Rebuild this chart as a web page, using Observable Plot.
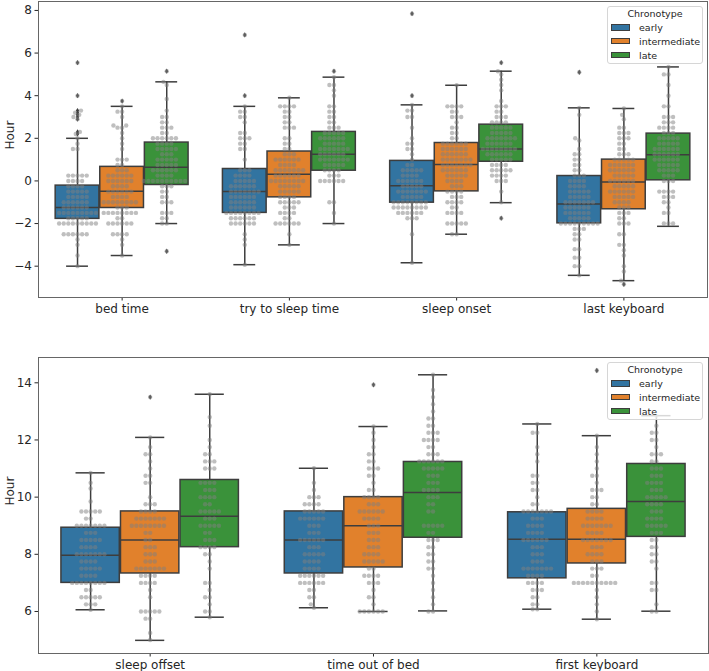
<!DOCTYPE html>
<html><head><meta charset="utf-8">
<script src="https://cdn.jsdelivr.net/npm/d3@7"></script>
<script src="https://cdn.jsdelivr.net/npm/@observablehq/plot@0.6"></script>
<style>
body{margin:0;background:#fff;font-family:"DejaVu Sans",sans-serif}
#wrap{position:relative;width:709px;height:671px;overflow:hidden}
.panel{position:absolute;left:0}
.legend{position:absolute;left:607px;width:96px;height:58px;background:rgba(255,255,255,0.8);border:1px solid #d6d6d6;border-radius:3px;box-sizing:border-box;font-size:9.5px;line-height:11px;color:#262626}
.legend .title{position:absolute;left:0;width:100%;text-align:center;top:0.8px;line-height:11px}
.legend .sw{position:absolute;left:3px;width:19px;height:6.5px;box-sizing:border-box;border:0.8px solid #3d3d3d}
.legend .lb{position:absolute;left:31px;line-height:11px;white-space:nowrap}
</style></head>
<body><div id="wrap"></div>
<script>
// ---------- data ----------
const chronotypes = ["early", "intermediate", "late"];
const boxColors = ["#3274a1", "#e1812c", "#3a923a"];

const topCategories = ["bed time", "try to sleep time", "sleep onset", "last keyboard"];
const bottomCategories = ["sleep offset", "time out of bed", "first keyboard"];

// box statistics, order: category-major, chronotype-minor
const topQ1  = [-1.78, -1.27, -0.19, -1.5, -0.77, 0.48, -1.02, -0.49, 0.9, -1.99, -1.33, 0.03];
const topMed = [-1.25, -0.49, 0.64, -0.5, 0.31, 1.25, -0.23, 0.77, 1.5, -1.08, -0.05, 1.23];
const topQ3  = [-0.22, 0.66, 1.8, 0.56, 1.38, 2.3, 0.94, 1.78, 2.64, 0.23, 1.0, 2.22];
const topLo  = [-4.0, -3.5, -2.0, -3.93, -3.0, -2.0, -3.84, -2.5, -1.02, -4.43, -4.68, -2.13];
const topHi  = [2.0, 3.5, 4.65, 3.5, 3.9, 4.87, 3.57, 4.49, 5.15, 3.43, 3.4, 5.35];
// [category index, chronotype index, value]
const topOutliers = [[0,0,5.55],[0,0,4.0],[0,0,3.3],[0,0,3.2],[0,0,3.1],[0,0,3.0],[0,0,2.9],[0,0,2.3],[0,0,2.2],
  [0,1,3.75],[0,2,5.15],[0,2,-3.3],[1,0,6.85],[1,0,4.0],[1,2,5.15],[2,0,7.85],[2,0,4.0],[2,2,5.55],[2,2,-1.75],
  [3,0,5.1],[3,1,-4.85]];

const bottomQ1  = [7.0, 7.33, 8.25, 7.33, 7.54, 8.58, 7.16, 7.68, 8.61];
const bottomMed = [7.97, 8.5, 9.33, 8.5, 9.0, 10.16, 8.53, 8.53, 9.85];
const bottomQ3  = [8.93, 9.5, 10.6, 9.5, 10.0, 11.23, 9.47, 9.59, 11.16];
const bottomLo  = [6.06, 4.99, 5.8, 6.13, 6.0, 6.02, 6.08, 5.73, 6.01];
const bottomHi  = [10.85, 12.09, 13.6, 11.01, 12.47, 14.28, 12.56, 12.15, 12.85];
const bottomOutliers = [[0,1,13.5],[1,1,13.93],[2,1,14.43]];

// swarm values ("value" or "value x count"), per chronotype
const bedTimeSwarm = [
  "5.55 4 3.3 3.2 3.1 3 2.9 2.3 2.2 2 1.75 1.5x2 0.25x5 0x4 -0.25x4 -0.5x5 -0.75x5 -1x6 -1.25x6 -1.5x9 -1.75x5 -2x9 -2.5x6 -2.75 -3 -3.5 -4",
  "3.75 3.5 3.25x2 3 2.6x2 2.5x2 2.25 2 1.75 1.5 1x3 0.75x2 0.5x3 0.25x6 0x6 -0.25x4 -0.5x6 -0.75x4 -1x8 -1.25x3 -1.5x8 -1.75x2 -2x6 -2.5x4 -2.75 -3 -3.5",
  "5.15 4.65 4.5 3.85 3.3 3x2 2.75x2 2.5x3 2.25x2 2x6 1.75x4 1.5x5 1.25x3 1x5 0.75x5 0.5x6 0.25x4 0x10 -0.25x3 -0.5x2 -0.75x2 -1x3 -1.5x3 -1.75x2 -2x2 -3.3"
];
const tryToSleepSwarm = [
  "6.85 4 3.5 3.25x2 3x2 2.75 2.25x2 2x3 1.75x2 1.5x2 1 0.5x3 0.25x4 0x5 -0.25x6 -0.5x7 -0.75x6 -1x6 -1.25x6 -1.5x8 -1.75x6 -2x6 -2.5 -2.75 -3 -3.93",
  "3.9 3.5x4 3.25x2 3x2 2.75x2 2.5x3 2x2 1.75x2 1.5x2 1.25x3 1x6 0.75x4 0.5x7 0.25x6 0x8 -0.25x5 -0.5x5 -0.75x4 -1x5 -1.25x3 -1.5x4 -1.75x2 -2x6 -2.5 -3",
  "5.15 4.87 4.5x2 4.25 4 3.5x2 3.25x2 3x2 2.75x2 2.5x3 2.25x5 2x6 1.75x5 1.5x7 1.25x6 1x7 0.75x5 0.5x4 0.25x3 0x6 -1x2 -1.5 -2"
];
const sleepOnsetSwarm = [
  "7.85 4 3.57 3.3x2 3x2 2.5 2 1.75x2 1.5x2 1.25 1 0.75x2 0.5x5 0.25x4 0x6 -0.25x5 -0.5x7 -0.75x5 -1x8 -1.25x8 -1.5x6 -1.75x3 -2.5 -3.84",
  "4.49 3.5x4 3.25x2 3x3 2.75 2.5x2 2.25x2 2x2 1.75x6 1.5x6 1.25x6 1x7 0.75x7 0.5x6 0.25x5 0x4 -0.25x3 -0.5x4 -0.75x3 -1x4 -1.25x2 -1.5x4 -2x5 -2.5x2",
  "5.55 5.15 5 4.75 4.5 4.25 3.75 3.5x3 3.25x2 3x3 2.75x4 2.5x5 2.25x5 2x7 1.75x6 1.5x8 1.25x6 1x5 0.75x4 0.5x5 0.25x4 0x3 -0.5 -1 -1.75"
];
const lastKeyboardSwarm = [
  "5.1 3.43 3.1 2 1.9 1.5 1.25x2 1x2 0.75x2 0.5x2 0.25x3 0x4 -0.25x4 -0.5x5 -0.75x5 -1x7 -1.25x6 -1.5x6 -1.75x5 -2x9 -2.25x3 -2.5x2 -2.75x2 -3.2x2 -3.6x2 -4x2 -4.43",
  "3.4 3.1 2.9 2.5x2 2.25x3 2x3 1.75x2 1.5x2 1.25x3 1x5 0.75x6 0.5x6 0.25x5 0x6 -0.25x5 -0.5x6 -0.75x5 -1x4 -1.25x3 -1.5x3 -1.75x2 -2x3 -2.5x2 -3x2 -3.25 -3.5 -4 -4.25 -4.68 -4.85",
  "5.35 5x2 4.5 4 3.5x2 3x3 2.75x3 2.5x4 2.25x3 2x5 1.75x5 1.5x6 1.25x6 1x6 0.75x5 0.5x5 0.25x3 0x3 -0.5x4 -0.75x3 -1x2 -1.25 -1.5x2 -2x3"
];
const sleepOffsetSwarm = [
  "10.85 10.5 10.3 9.85 9.5x5 9.25x2 9x7 8.75x3 8.5x5 8.25x4 8x7 7.75x4 7.5x5 7.25x4 7x8 6.75x2 6.5x5 6.25x3 6.06",
  "13.5 12.09 11.75 11.5x2 11.25 11 10.75x2 10.5x2 10 9.75x3 9.5x4 9.25x7 9x8 8.75x2 8.5x2 8.25x3 8x3 7.75x3 7.5x7 7.25x4 7x4 6.75 6.5 6x5 5.75x2 5.25 5",
  "13.6 12.8 12.5 12 11.75 11.5x2 11.25x3 11x3 10.5x4 10.25x3 10x4 9.75x2 9.5x5 9.25x3 9x5 8.75x2 8.5x3 8.25x4 8x2 7.75 7.5 7x2 6.75 6.5x2 6.25 6x2 5.8"
];
const timeOutOfBedSwarm = [
  "11.01 10.5 10.25 10x3 9.75x4 9.5x5 9.25x6 9x3 8.75x3 8.5x6 8.25x3 8x5 7.75x4 7.5x4 7.25x6 7x6 6.75x2 6.5x2 6.25 6.13",
  "13.93 12.47 12.25 12 11.75 11.5x2 11.25x2 11x3 10.75x2 10.5 10.25x2 10x4 9.75x3 9.5x6 9.25x4 9x3 8.75x3 8.5x3 8.25x3 8x4 7.75x5 7.5x2 7.25x4 7x3 6.75 6.5x2 6.25 6x6",
  "14.28 13.75 13.5 13.25 13 12.75x2 12.5x2 12.25x3 12x4 11.75x2 11.5x3 11.25x6 11x5 10.75x3 10.5x3 10.25x4 10x3 9.75x2 9.5x2 9x5 8.75x2 8.5x3 8.25x2 8x2 7.75x2 7.5x2 7.25 7 6.75 6.5 6.25 6x2"
];
const firstKeyboardSwarm = [
  "12.56 12.25x2 11.75 11.5 11.25 10.75x2 10.5x2 10.25x2 10 9.75x2 9.5x7 9.25x3 9x4 8.75x4 8.5x6 8.25x3 8x3 7.75x3 7.5x7 7.25x4 7x4 6.75x3 6.5x2 6.25x2 6.08x2",
  "14.43 12.15 11.75 11.5 11.25 11 10.75x2 10.5 10.25x3 10x2 9.75x2 9.5x4 9.25x4 9x7 8.75x4 8.5x7 8.25x3 8x4 7.75x3 7.5x3 7.25x2 7x10 6.75 6.5 6.25 6 5.73",
  "12.85 12.5 12.25x2 12x2 11.75 11.5x3 11.25x2 11x3 10.75x3 10.5x4 10.25x3 10x5 9.75x4 9.5x3 9.25x4 9x5 8.75x3 8.5x2 8.25x2 8x2 7.75x2 7.5 7x2 6.75x2 6.25 6x2"
];

const topSwarms = [bedTimeSwarm, tryToSleepSwarm, sleepOnsetSwarm, lastKeyboardSwarm];
const bottomSwarms = [sleepOffsetSwarm, timeOutOfBedSwarm, firstKeyboardSwarm];

const topTicks = [-4, -2, 0, 2, 4, 6, 8];
const bottomTicks = [6, 8, 10, 12, 14];

// ---------- helpers ----------
function parseSwarm(s) {
  const out = [];
  for (const tok of s.trim().split(/\s+/)) {
    const [v, n] = tok.split("x");
    const c = n ? +n : 1;
    for (let k = 0; k < c; k++) out.push(+v);
  }
  return out;
}
function beeswarm(ys, d) {
  const idx = d3.range(ys.length).sort((a, b) => ys[a] - ys[b]);
  const placed = [], xs = new Array(ys.length);
  for (const i of idx) {
    const y = ys[i];
    const nb = placed.filter(p => Math.abs(p.y - y) < d - 1e-9);
    const cands = [0];
    for (const p of nb) { const dy = y - p.y; const dx = Math.sqrt(d * d - dy * dy); cands.push(p.x + dx, p.x - dx); }
    cands.sort((a, b) => Math.abs(a) - Math.abs(b) || a - b);
    let x = 0;
    for (const c of cands) {
      if (nb.every(p => (c - p.x) ** 2 + (y - p.y) ** 2 >= d * d - 1e-6)) { x = c; break; }
    }
    placed.push({x, y}); xs[i] = x;
  }
  return xs;
}
const thinDiamond = {
  draw(ctx, size) {
    const r = Math.sqrt(size / Math.PI);
    ctx.moveTo(0, -r * 1.2); ctx.lineTo(r * 0.75, 0); ctx.lineTo(0, r * 1.2); ctx.lineTo(-r * 0.75, 0); ctx.closePath();
  }
};
const fmt = v => v < 0 ? "\u2212" + Math.abs(v) : String(v);
const edge = "#3d3d3d";

function panel({categories, swarms, q1, med, q3, lo, hi, outliers, yDomain, yTicks, height, marginTop, marginBottom, marginRight}) {
  const width = 709, marginLeft = 38;
  const xDomain = [-0.5, categories.length - 0.5];
  const pxX = (width - marginLeft - marginRight) / (xDomain[1] - xDomain[0]);
  const pxY = (height - marginTop - marginBottom) / (yDomain[1] - yDomain[0]);
  const hueW = 0.8 / 3, boxW = hueW * 0.98;
  const boxes = [], dots = [];
  categories.forEach((c, i) => chronotypes.forEach((h, j) => {
    const k = i * 3 + j, cx = i + (j - 1) * hueW;
    boxes.push({cx, x1: cx - boxW / 2, x2: cx + boxW / 2, c1: cx - boxW / 4, c2: cx + boxW / 4,
      q1: q1[k], med: med[k], q3: q3[k], lo: lo[k], hi: hi[k], color: boxColors[j]});
    const vals = parseSwarm(swarms[i][j]);
    const offs = beeswarm(vals.map(v => v * pxY), 4.6);
    vals.forEach((v, n) => dots.push({x: cx + offs[n] / pxX, y: v}));
  }));
  const outl = outliers.map(([i, j, v]) => ({x: i + (j - 1) * hueW, y: v}));
  const line = {stroke: edge, strokeWidth: 1.5};
  return Plot.plot({
    width, height, marginLeft, marginRight, marginTop, marginBottom,
    style: {fontFamily: "DejaVu Sans", fontSize: "12px", color: "#262626", background: "white", overflow: "visible"},
    x: {domain: xDomain, ticks: d3.range(categories.length), tickFormat: i => categories[i], tickSize: 3.5, tickPadding: 3, label: null},
    y: {domain: yDomain, ticks: yTicks, tickFormat: fmt, tickSize: 3.5, tickPadding: 3, label: null},
    color: {type: "identity"},
    marks: [
      Plot.ruleX(boxes, {x: "cx", y1: "q3", y2: "hi", ...line}),
      Plot.ruleX(boxes, {x: "cx", y1: "lo", y2: "q1", ...line}),
      Plot.ruleY(boxes, {y: "hi", x1: "c1", x2: "c2", ...line}),
      Plot.ruleY(boxes, {y: "lo", x1: "c1", x2: "c2", ...line}),
      Plot.rect(boxes, {x1: "x1", x2: "x2", y1: "q1", y2: "q3", fill: "color", ...line}),
      Plot.ruleY(boxes, {y: "med", x1: "x1", x2: "x2", ...line}),
      Plot.dot(outl, {x: "x", y: "y", r: 2.2, symbol: thinDiamond, fill: edge, stroke: null}),
      Plot.dot(dots, {x: "x", y: "y", r: 2.2, fill: "#808080", fillOpacity: 0.5, stroke: null}),
      Plot.frame({stroke: "#666", strokeWidth: 1}),
      Plot.text(["Hour"], {text: d => d, frameAnchor: "left", dx: -28, rotate: -90, fontSize: 12, fill: "#262626"})
    ]
  });
}

function legend(top) {
  const el = document.createElement("div");
  el.className = "legend";
  el.style.top = top + "px";
  let html = '<div class="title">Chronotype</div>';
  chronotypes.forEach((h, j) => {
    const cy = 20.3 + j * 13.9;
    html += `<div class="sw" style="top:${(cy - 3.25).toFixed(2)}px;background:${boxColors[j]}"></div>`;
    html += `<div class="lb" style="top:${(cy - 5.5).toFixed(2)}px">${h}</div>`;
  });
  el.innerHTML = html;
  return el;
}

const wrap = document.getElementById("wrap");
const p1 = panel({categories: topCategories, swarms: topSwarms, q1: topQ1, med: topMed, q3: topQ3, lo: topLo, hi: topHi,
  outliers: topOutliers, yDomain: [-5.47, 8.42], yTicks: topTicks, height: 320, marginTop: 1, marginBottom: 23, marginRight: 2});
p1.classList.add("panel"); p1.style.top = "0px";
const p2 = panel({categories: bottomCategories, swarms: bottomSwarms, q1: bottomQ1, med: bottomMed, q3: bottomQ3, lo: bottomLo, hi: bottomHi,
  outliers: bottomOutliers, yDomain: [4.53, 14.885], yTicks: bottomTicks, height: 351, marginTop: 37, marginBottom: 18, marginRight: 1});
p2.classList.add("panel"); p2.style.top = "320px";
wrap.appendChild(p1);
wrap.appendChild(p2);
wrap.appendChild(legend(6));
wrap.appendChild(legend(362));
</script>
</body></html>
